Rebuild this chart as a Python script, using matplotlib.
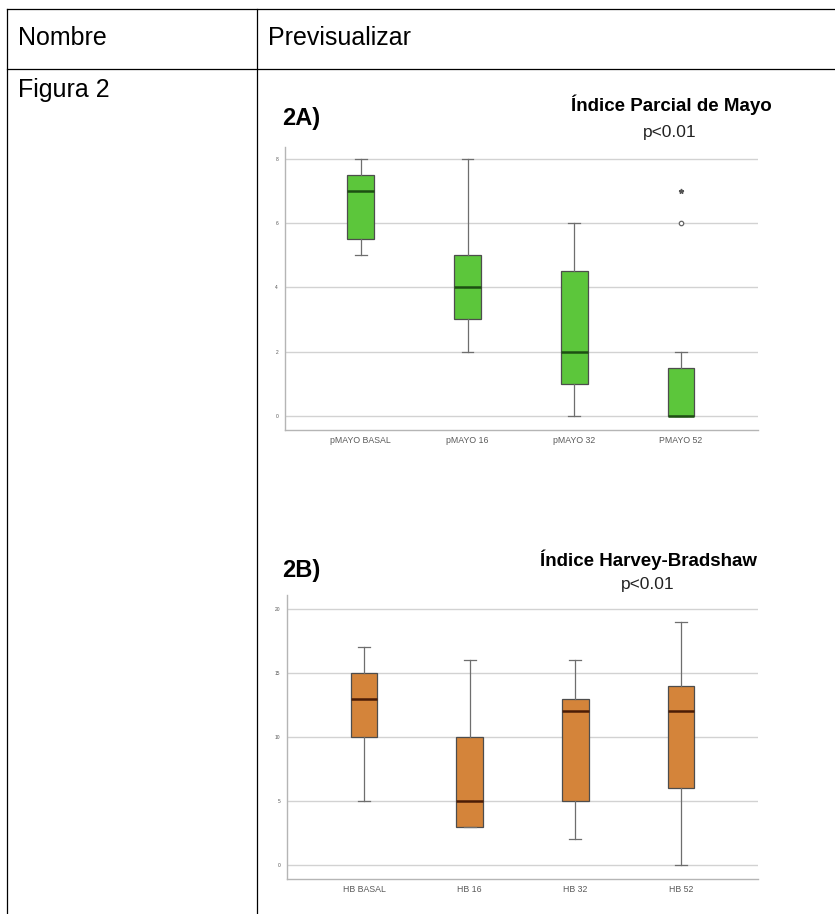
import matplotlib.pyplot as plt
from matplotlib.lines import Line2D

# box summaries (whisker low, Q1, median, Q3, whisker high)
mayo_labels = ['pMAYO BASAL', 'pMAYO 16', 'pMAYO 32', 'PMAYO 52']
mayo_low = [5, 2, 0, 0]
mayo_q1 = [5.5, 3, 1, 0]
mayo_med = [7, 4, 2, 0]
mayo_q3 = [7.5, 5, 4.5, 1.5]
mayo_high = [8, 8, 6, 2]
mayo_outliers = [[], [], [], [6]]
mayo_extremes = [[], [], [], [7]]

hb_labels = ['HB BASAL', 'HB 16', 'HB 32', 'HB 52']
hb_low = [5, 3, 2, 0]
hb_q1 = [10, 3, 5, 6]
hb_med = [13, 5, 12, 12]
hb_q3 = [15, 10, 13, 14]
hb_high = [17, 16, 16, 19]

W, H = 835, 914
fig = plt.figure(figsize=(W / 100, H / 100), dpi=100)
plt.rcParams['font.family'] = ['Liberation Sans', 'DejaVu Sans']


def fx(x):
    return x / W


def fy(y):
    return 1 - y / H


def axes_px(left, top, right, bottom):
    return fig.add_axes([fx(left), fy(bottom), (right - left) / W, (bottom - top) / H])


# table frame
for x0, y0, x1, y1 in [(7, 9, W, 9), (7, 69, W, 69), (7, 9, 7, H), (257, 9, 257, H)]:
    fig.add_artist(Line2D([fx(x0), fx(x1)], [fy(y0), fy(y1)], color='black', lw=0.9))

fig.text(fx(18), fy(38), 'Nombre', fontsize=18, va='center')
fig.text(fx(268), fy(38), 'Previsualizar', fontsize=18, va='center')
fig.text(fx(18), fy(90), 'Figura 2', fontsize=18, va='center')


def boxes(ax, labels, low, q1, med, q3, high, fill, median_col, fliers=None):
    stats = []
    for i in range(len(labels)):
        stats.append({'whislo': low[i], 'q1': q1[i], 'med': med[i], 'q3': q3[i],
                      'whishi': high[i], 'fliers': fliers[i] if fliers else []})
    ax.bxp(stats, positions=range(1, len(labels) + 1), widths=0.25, capwidths=0.11,
           patch_artist=True, showfliers=True,
           boxprops=dict(facecolor=fill, edgecolor='#4d4d4d', lw=0.9),
           medianprops=dict(color=median_col, lw=1.8),
           whiskerprops=dict(color='#6e6e6e', lw=0.9),
           capprops=dict(color='#6e6e6e', lw=0.9),
           flierprops=dict(marker='o', markersize=3.2, markerfacecolor='white',
                           markeredgecolor='#666666', markeredgewidth=0.9))
    ax.set_xticks(range(1, len(labels) + 1))
    ax.set_xticklabels(labels, fontsize=6.3, color='#5a5a5a')
    for s in ['top', 'right']:
        ax.spines[s].set_visible(False)
    for s in ['left', 'bottom']:
        ax.spines[s].set_color('#b5b5b5')
        ax.spines[s].set_linewidth(1.0)
    ax.tick_params(length=0, pad=4)
    ax.tick_params(axis='y', labelsize=3.5, labelcolor='#555555', pad=5)
    ax.yaxis.grid(True, color='#d2d2d2', lw=1.0)
    ax.set_axisbelow(True)


# 2A: partial Mayo index
ax1 = axes_px(285, 147, 758, 430)
boxes(ax1, mayo_labels, mayo_low, mayo_q1, mayo_med, mayo_q3, mayo_high,
      '#5cc63b', '#1d4f12', mayo_outliers)
for i, ext in enumerate(mayo_extremes):
    ax1.plot([i + 1] * len(ext), ext, ls='none', marker='*', markersize=3.5, color='#555555')
ax1.set_yticks([0, 2, 4, 6, 8])
ax1.set_xlim(0.29, 4.72)
ax1.set_ylim(-0.44, 8.37)

fig.text(fx(282), fy(119), '2A)', fontsize=17, fontweight='bold', va='center')
fig.text(fx(772), fy(105), 'Índice Parcial de Mayo', fontsize=13.5, fontweight='bold',
         ha='right', va='center')
fig.text(fx(670), fy(132), 'p<0.01', fontsize=12.5, ha='center', va='center', color='#222222')

# 2B: Harvey-Bradshaw index
ax2 = axes_px(287, 595, 758, 879)
boxes(ax2, hb_labels, hb_low, hb_q1, hb_med, hb_q3, hb_high, '#d4843a', '#4a1c06')
ax2.set_yticks([0, 5, 10, 15, 20])
ax2.set_xlim(0.27, 4.73)
ax2.set_ylim(-1.1, 21.1)

fig.text(fx(282), fy(571), '2B)', fontsize=17, fontweight='bold', va='center')
fig.text(fx(757), fy(560), 'Índice Harvey-Bradshaw', fontsize=13.5, fontweight='bold',
         ha='right', va='center')
fig.text(fx(648), fy(585), 'p<0.01', fontsize=12.5, ha='center', va='center', color='#222222')

fig.savefig('out.png', dpi=100)
